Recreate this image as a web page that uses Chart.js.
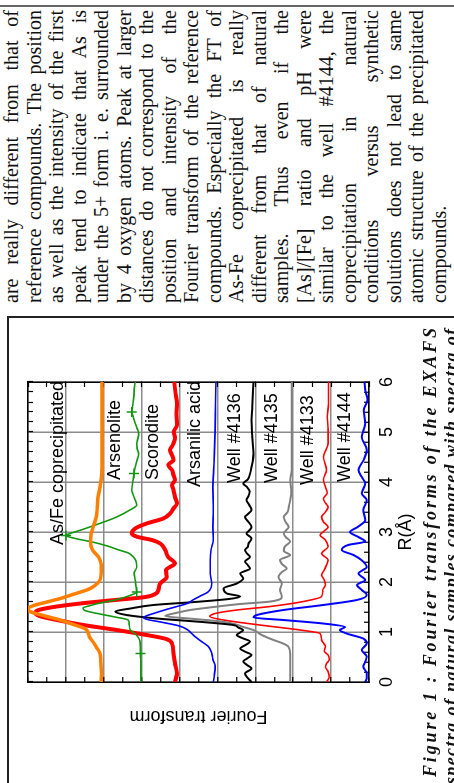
<!DOCTYPE html>
<html>
<head>
<meta charset="utf-8">
<script src="https://cdn.jsdelivr.net/npm/chart.js@4.4.0/dist/chart.umd.min.js"></script>
<style>
  html, body { margin: 0; padding: 0; background: #fff; overflow: hidden; }
  body { width: 454px; height: 783px; position: relative; }
  /* the scanned page is turned a quarter turn counter-clockwise */
  #page { position: absolute; left: 0; top: 0; width: 783px; height: 454px; overflow: hidden;
          transform-origin: 0 0; transform: translateY(783px) rotate(-90deg); }
  .rule { position: absolute; left: 776px; top: 0; width: 2px; height: 454px; background: #666; }
  .boxTop { position: absolute; left: 0; top: 7px; width: 467px; height: 2px; background: #222; }
  .boxRight { position: absolute; left: 465px; top: 7px; width: 2px; height: 447px; background: #222; }
  #body { position: absolute; left: 480px; top: 0; width: 293px; color: #111;
          font: 20px/22.5px "Liberation Serif", "Times New Roman", serif; }
  #body div { text-align: justify; text-align-last: justify; white-space: normal; }
  #body div.last { text-align-last: left; }
  #fig { position: absolute; left: 0; top: 0; }
  .cap { position: absolute; color: #111; white-space: nowrap;
         font: italic bold 18px/21px "Liberation Serif", "Times New Roman", serif; }
</style>
</head>
<body>
<div id="page">
  <div class="rule"></div>
  <div class="boxTop"></div>
  <div class="boxRight"></div>
  <div id="body"></div>
  <canvas id="fig" width="466" height="454"></canvas>
  <div class="cap" id="cap1" style="left:6px; top:420.4px;">Figure 1 : Fourier transforms of the EXAFS</div>
  <div class="cap" id="cap2" style="left:-1px; top:441.4px;">spectra of natural samples compared with spectra of</div>
</div>
<script>
// R (Å) positions and offset FT magnitudes
const rAsFe = [0, 0.2, 0.4, 0.57, 0.7, 0.8, 0.9, 1.0, 1.07, 1.15, 1.24, 1.33, 1.41, 1.47, 1.53, 1.6, 1.68, 1.76, 1.84, 1.92, 2.04, 2.2, 2.35, 2.5, 2.64, 2.8, 2.95, 3.1, 3.3, 3.5, 3.7, 3.9, 4.1, 4.3, 4.6, 5.0, 5.5, 6.0];
const ftAsFe = [7.07, 7.06, 7.08, 7.10, 7.2, 7.28, 7.38, 7.42, 7.5, 7.8, 8.15, 8.6, 8.95, 9.0, 8.85, 8.5, 8.1, 7.78, 7.45, 7.25, 7.1, 7.07, 7.07, 7.14, 7.3, 7.35, 7.34, 7.28, 7.2, 7.17, 7.15, 7.1, 7.06, 7.05, 7.05, 7.05, 7.05, 7.05];

const rArsenolite = [0, 0.3, 0.57, 0.8, 0.95, 1.04, 1.15, 1.24, 1.3, 1.36, 1.43, 1.48, 1.53, 1.58, 1.64, 1.72, 1.8, 1.9, 2.04, 2.17, 2.3, 2.42, 2.5, 2.58, 2.64, 2.72, 2.8, 2.87, 2.93, 2.98, 3.04, 3.12, 3.2, 3.3, 3.44, 3.54, 3.64, 3.74, 3.84, 3.97, 4.07, 4.17, 4.3, 4.44, 4.57, 4.67, 4.77, 4.87, 4.97, 5.07, 5.17, 5.3, 5.4, 5.5, 5.64, 5.75, 5.84, 6.0];
const ftArsenolite = [6.02, 6.02, 6.03, 6.04, 6.15, 6.3, 6.33, 6.36, 6.7, 7.1, 7.5, 7.55, 7.35, 7.1, 6.7, 6.35, 6.13, 6.15, 6.17, 6.2, 6.13, 6.15, 6.22, 6.35, 6.6, 6.9, 7.3, 7.75, 8.0, 7.85, 7.6, 7.3, 7.0, 6.66, 6.31, 6.13, 6.17, 6.22, 6.26, 6.24, 6.22, 6.2, 6.17, 6.12, 6.08, 6.12, 6.13, 6.1, 6.08, 6.12, 6.17, 6.22, 6.26, 6.24, 6.22, 6.2, 6.2, 6.17];
const arsenoliteMarkR = [0.57, 1.8, 2.93, 4.17, 5.4];

const rScorodite = [0, 0.17, 0.37, 0.57, 0.77, 0.86, 0.94, 1.04, 1.14, 1.24, 1.32, 1.38, 1.44, 1.51, 1.58, 1.64, 1.7, 1.77, 1.84, 1.97, 2.1, 2.24, 2.37, 2.5, 2.64, 2.77, 2.84, 2.9, 2.97, 3.07, 3.17, 3.27, 3.37, 3.47, 3.57, 3.7, 3.84, 3.94, 4.04, 4.14, 4.24, 4.34, 4.44, 4.54, 4.64, 4.74, 4.87, 5.0, 5.14, 5.37, 5.57, 5.8, 6.0];
const ftScorodite = [5.12, 5.07, 5.12, 5.16, 5.2, 5.35, 5.87, 6.66, 7.54, 8.24, 8.7, 8.8, 8.72, 8.24, 7.5, 6.7, 5.9, 5.62, 5.56, 5.51, 5.34, 5.36, 5.12, 5.3, 5.38, 5.51, 5.73, 6.1, 6.26, 6.17, 5.87, 5.43, 5.25, 5.16, 5.07, 5.12, 5.16, 5.2, 5.12, 5.16, 5.2, 5.3, 5.16, 5.2, 5.25, 5.18, 5.12, 5.15, 5.07, 5.08, 5.07, 5.11, 5.14];

const rArsanilic = [0, 0.15, 0.31, 0.45, 0.57, 0.71, 0.8, 0.9, 0.97, 1.05, 1.12, 1.2, 1.25, 1.29, 1.33, 1.38, 1.45, 1.51, 1.57, 1.64, 1.72, 1.8, 1.97, 2.17, 2.44, 2.64, 2.84, 3.1, 3.44, 3.9, 4.24, 4.57, 5.04, 5.57, 6.0];
const ftArsanilic = [4.11, 4.08, 4.06, 4.12, 4.15, 4.24, 4.4, 4.58, 4.68, 4.8, 5.0, 5.5, 5.85, 5.95, 5.85, 5.65, 5.35, 5.07, 4.8, 4.65, 4.45, 4.25, 4.15, 4.19, 4.19, 4.17, 4.11, 4.12, 4.11, 4.12, 4.1, 4.08, 4.06, 4.05, 4.04];

const rWell4136 = [0, 0.08, 0.17, 0.27, 0.34, 0.41, 0.48, 0.54, 0.61, 0.67, 0.74, 0.81, 0.88, 0.94, 1.0, 1.04, 1.09, 1.14, 1.2, 1.27, 1.34, 1.41, 1.47, 1.54, 1.6, 1.66, 1.71, 1.77, 1.87, 1.97, 2.07, 2.17, 2.27, 2.34, 2.41, 2.5, 2.57, 2.64, 2.7, 2.77, 2.87, 2.97, 3.04, 3.1, 3.2, 3.3, 3.37, 3.44, 3.54, 3.64, 3.72, 3.81, 3.9, 3.97, 4.05, 4.14, 4.3, 4.57, 4.9, 5.24, 5.5, 6.0];
const ftWell4136 = [3.1, 3.2, 3.27, 3.1, 3.22, 3.32, 3.2, 3.1, 3.28, 3.4, 3.26, 3.14, 3.35, 3.49, 3.38, 3.32, 3.45, 3.58, 4.4, 5.6, 6.4, 6.7, 6.3, 5.69, 4.6, 3.7, 3.4, 3.75, 3.84, 3.49, 3.32, 3.4, 3.14, 3.2, 3.27, 3.14, 3.22, 3.27, 3.2, 3.18, 3.1, 3.23, 3.15, 3.1, 3.18, 3.27, 3.18, 3.1, 3.16, 3.23, 3.18, 3.15, 3.22, 3.32, 3.2, 3.15, 3.1, 3.05, 3.08, 3.1, 3.08, 3.05];

const rWell4135 = [0, 0.3, 0.57, 0.71, 0.78, 0.84, 0.94, 1.04, 1.1, 1.16, 1.21, 1.26, 1.32, 1.38, 1.44, 1.5, 1.56, 1.61, 1.71, 1.84, 1.97, 2.1, 2.2, 2.27, 2.36, 2.44, 2.54, 2.62, 2.71, 2.81, 2.9, 2.97, 3.1, 3.2, 3.3, 3.4, 3.5, 3.64, 3.81, 4.04, 4.24, 4.9, 5.57, 6.0];
const ftWell4135 = [2.08, 2.08, 2.08, 2.13, 2.3, 2.52, 2.83, 3.05, 3.32, 3.55, 3.9, 4.6, 5.38, 5.1, 4.72, 4.1, 3.4, 2.6, 2.3, 2.35, 2.3, 2.39, 2.3, 2.17, 2.3, 2.35, 2.08, 2.25, 2.22, 2.08, 2.2, 2.25, 2.12, 2.2, 2.25, 2.15, 2.12, 2.08, 2.05, 2.08, 2.04, 2.04, 2.04, 2.04];

const rWell4133 = [0, 0.1, 0.21, 0.3, 0.37, 0.45, 0.54, 0.62, 0.71, 0.78, 0.84, 0.97, 1.04, 1.14, 1.24, 1.31, 1.37, 1.44, 1.51, 1.61, 1.71, 1.84, 1.94, 2.04, 2.14, 2.24, 2.34, 2.44, 2.57, 2.71, 2.84, 2.94, 3.02, 3.1, 3.2, 3.3, 3.4, 3.5, 3.58, 3.67, 3.78, 3.9, 4.05, 4.24, 4.5, 4.77, 5.04, 5.3, 5.57, 6.0];
const ftWell4133 = [1.12, 1.05, 1.08, 1.15, 1.12, 1.05, 1.08, 1.18, 1.15, 1.2, 1.25, 1.29, 1.82, 2.88, 3.84, 4.2, 4.06, 3.49, 2.61, 1.73, 1.25, 1.22, 1.15, 1.18, 1.25, 1.18, 1.12, 1.08, 1.25, 1.08, 1.15, 1.29, 1.18, 1.08, 1.2, 1.25, 1.15, 1.08, 1.15, 1.2, 1.1, 1.15, 1.2, 1.12, 1.2, 1.08, 1.08, 1.1, 1.07, 1.07];

const rWell4144 = [0, 0.08, 0.17, 0.31, 0.4, 0.51, 0.64, 0.77, 0.87, 0.97, 1.04, 1.1, 1.17, 1.24, 1.29, 1.34, 1.44, 1.54, 1.64, 1.74, 1.84, 1.94, 2.04, 2.17, 2.3, 2.44, 2.54, 2.64, 2.74, 2.81, 2.9, 3.0, 3.1, 3.24, 3.44, 3.64, 3.77, 3.97, 4.1, 4.24, 4.44, 4.64, 4.9, 5.17, 5.44, 5.64, 5.84, 6.0];
const ftWell4144 = [0.1, 0.06, 0.06, 0.15, 0.1, 0.06, 0.19, 0.06, 0.15, 0.59, 0.77, 0.63, 1.21, 2.26, 3.05, 2.96, 2.26, 1.21, 0.32, 0.06, 0.19, 0.32, 0.1, 0.28, 0.06, 0.2, 0.41, 0.72, 0.55, 0.1, 0.28, 0.5, 0.3, 0.1, 0.15, 0.06, 0.19, 0.1, 0.19, 0.28, 0.14, 0.06, 0.19, 0.1, 0.14, 0.04, 0.1, 0.12];

// curve names written inside the plot, with the R and height where each starts
const labelNames = ["As/Fe coprecipitated", "Arsenolite", "Scorodite", "Arsanilic acid", "Well #4136", "Well #4135", "Well #4133", "Well #4144"];
const labelR = [2.74, 4.04, 4.04, 3.9, 3.98, 3.98, 3.94, 4.0];
const labelY = [8.08, 6.57, 5.57, 4.46, 3.41, 2.43, 1.48, 0.5];

const bodyLines = [
  "are really different from that of",
  "reference compounds. The position",
  "as well as the intensity of the first",
  "peak tend to indicate that As is",
  "under the 5+ form i. e. surrounded",
  "by 4 oxygen atoms. Peak at larger",
  "distances do not correspond to the",
  "position and intensity of the",
  "Fourier transform of the reference",
  "compounds. Especially the FT of",
  "As-Fe coprecipitated is really",
  "different from that of natural",
  "samples. Thus even if the",
  "[As]/[Fe] ratio and pH were",
  "similar to the well #4144, the",
  "coprecipitation in natural",
  "conditions versus synthetic",
  "solutions does not lead to same",
  "atomic structure of the precipitated",
  "compounds."
];

const bodyEl = document.getElementById("body");
bodyLines.forEach((t, i) => {
  const d = document.createElement("div");
  d.textContent = t;
  if (i === bodyLines.length - 1) d.className = "last";
  bodyEl.appendChild(d);
});

// both caption lines are justified to the same length as in the scan
function fitLine(id, target) {
  const c = document.createElement("canvas").getContext("2d");
  c.font = 'italic bold 18px "Liberation Serif", "Times New Roman", serif';
  const el = document.getElementById(id);
  const t = el.textContent;
  const ls = (target - c.measureText(t).width) / (t.length - 1);
  el.style.letterSpacing = ls.toFixed(2) + "px";
}
fitLine("cap1", 449);
fitLine("cap2", 455);

function pts(rs, vs) {
  return rs.map((r, i) => ({ x: r, y: vs[i] }));
}
function isWhole(v) {
  return Math.abs(v - Math.round(v)) < 1e-6;
}

Chart.defaults.font.family = 'Arial, "Liberation Sans", sans-serif';
Chart.defaults.font.size = 18;
Chart.defaults.color = "#000";

const gridColor = (c) => (isWhole(c.tick.value) ? "#8c8c8c" : "rgba(0,0,0,0)");

const curveLabels = {
  id: "curveLabels",
  afterDatasetsDraw(chart) {
    const { ctx, chartArea: a, scales: { x, y } } = chart;
    ctx.save();
    ctx.beginPath();
    ctx.rect(a.left, a.top, a.right - a.left, a.bottom - a.top);
    ctx.clip();
    ctx.font = '18px Arial, "Liberation Sans", sans-serif';
    ctx.fillStyle = "#000";
    ctx.textAlign = "left";
    ctx.textBaseline = "alphabetic";
    labelNames.forEach((t, i) => {
      ctx.fillText(t, x.getPixelForValue(labelR[i]), y.getPixelForValue(labelY[i]));
    });
    ctx.restore();
  },
};

function line(data, color, width, extra) {
  return Object.assign({
    data: data,
    borderColor: color,
    backgroundColor: color,
    borderWidth: width,
    pointRadius: 0,
    cubicInterpolationMode: "monotone",
    fill: false,
    xAxisID: "x",
    yAxisID: "y",
  }, extra || {});
}

new Chart(document.getElementById("fig"), {
  type: "line",
  data: {
    datasets: [
      line(pts(rAsFe, ftAsFe), "#ff7f00", 3.5),
      line(pts(rArsenolite, ftArsenolite), "#129612", 1.6, {
        pointStyle: "cross",
        pointRadius: (c) => (c.raw && arsenoliteMarkR.includes(c.raw.x) ? 5 : 0),
        pointBorderWidth: 1.5,
      }),
      line(pts(rScorodite, ftScorodite), "#ff0000", 4),
      line(pts(rArsanilic, ftArsanilic), "#0000ff", 1.6),
      line(pts(rWell4136, ftWell4136), "#000000", 2),
      line(pts(rWell4135, ftWell4135), "#808080", 2),
      line(pts(rWell4133, ftWell4133), "#ff0000", 1.6),
      line(pts(rWell4144, ftWell4144), "#0000ff", 2),
    ],
  },
  options: {
    responsive: false,
    animation: false,
    devicePixelRatio: 1,
    layout: { padding: { left: 0, right: 65, top: 28, bottom: 0 } },
    plugins: { legend: { display: false }, tooltip: { enabled: false } },
    scales: {
      x: {
        type: "linear",
        position: "bottom",
        min: 0,
        max: 6,
        ticks: {
          stepSize: 0.2,
          autoSkip: false,
          maxRotation: 0,
          padding: 12,
          callback: (v) => (isWhole(v) ? Math.round(v) : ""),
        },
        grid: { color: gridColor, lineWidth: 1.5, tickColor: "#000", tickLength: -5, tickWidth: 1.2 },
        border: { color: "#000", width: 1.5 },
        title: { display: true, text: "R(Å)", padding: { top: 0, bottom: 36.7 } },
        afterFit: (s) => { s.height = 85; },
      },
      xTop: {
        type: "linear",
        axis: "x",
        position: "top",
        min: 0,
        max: 6,
        ticks: { display: false, stepSize: 0.2, autoSkip: false },
        grid: { drawOnChartArea: false, tickColor: "#000", tickLength: -5, tickWidth: 1.2 },
        border: { color: "#000", width: 1.5 },
        afterFit: (s) => { s.height = 0; },
      },
      y: {
        type: "linear",
        position: "left",
        min: 0,
        max: 9,
        ticks: { display: false, stepSize: 0.5 },
        grid: { color: gridColor, lineWidth: 1.5, tickColor: "#000", tickLength: -5, tickWidth: 1.2 },
        border: { color: "#000", width: 1.5 },
        title: { display: true, text: "Fourier transform", padding: { top: 56.5, bottom: 0 } },
        afterFit: (s) => { s.width = 101; },
      },
      yRight: {
        type: "linear",
        axis: "y",
        position: "right",
        min: 0,
        max: 9,
        ticks: { display: false, stepSize: 0.5 },
        grid: { drawOnChartArea: false, tickColor: "#000", tickLength: -5, tickWidth: 1.2 },
        border: { color: "#000", width: 1.5 },
        afterFit: (s) => { s.width = 0; },
      },
    },
  },
  plugins: [curveLabels],
});
</script>
</body>
</html>
